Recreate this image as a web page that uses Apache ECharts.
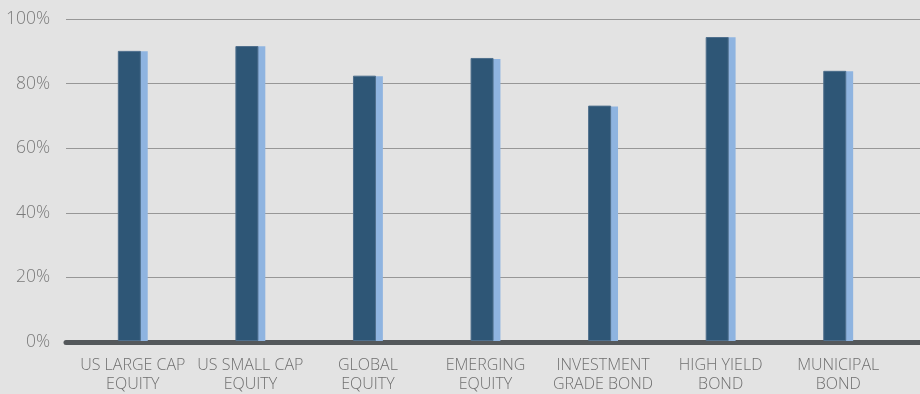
<!DOCTYPE html>
<html>
<head>
<meta charset="utf-8">
<script src="https://cdn.jsdelivr.net/npm/echarts@6/dist/echarts.min.js"></script>
<style>
  html, body { margin: 0; padding: 0; background: #e3e3e3; }
  #chart { width: 920px; height: 394px; }
</style>
</head>
<body>
<div id="chart"></div>
<script>
const categories = ['US LARGE CAP\nEQUITY', 'US SMALL CAP\nEQUITY', 'GLOBAL\nEQUITY', 'EMERGING\nEQUITY',
  'INVESTMENT\nGRADE BOND', 'HIGH YIELD\nBOND', 'MUNICIPAL\nBOND'];
const darkValues = [0.901, 0.916, 0.824, 0.879, 0.731, 0.944, 0.839]; //深色柱
const lightValues = [0.900, 0.915, 0.822, 0.876, 0.728, 0.943, 0.838]; //浅色柱

const chart = echarts.init(document.getElementById('chart'));
const labelFont = '"Open Sans", "DejaVu Sans", sans-serif';

chart.setOption({
  backgroundColor: '#e3e3e3',
  animation: false,
  grid: [
    { left: 66, right: 0, top: 19, bottom: 52 },
    { left: 74, right: 23, top: 19, bottom: 52 }
  ],
  xAxis: [
    {
      gridIndex: 0, type: 'category', data: categories,
      axisLine: { show: true, lineStyle: { color: '#54585b', width: 5 } },
      axisTick: { show: false }, axisLabel: { show: false }
    },
    {
      gridIndex: 1, type: 'category', data: categories,
      axisLine: { show: false }, axisTick: { show: false },
      axisLabel: {
        color: '#6f6f6f', fontSize: 16, fontWeight: 300, fontFamily: labelFont,
        lineHeight: 19, margin: 15, interval: 0
      }
    }
  ],
  yAxis: [
    {
      gridIndex: 0, type: 'value', min: 0, max: 1, interval: 0.2,
      axisLine: { show: false }, axisTick: { show: false },
      splitLine: { lineStyle: { color: '#979797', width: 1 } },
      axisLabel: {
        color: '#7a7a7a', fontSize: 17.5, fontWeight: 300, fontFamily: labelFont, margin: 16,
        formatter: v => Math.round(v * 100) + '%'
      }
    },
    {
      gridIndex: 1, type: 'value', min: 0, max: 1, show: false
    }
  ],
  series: [
    {
      type: 'bar', xAxisIndex: 1, yAxisIndex: 1, data: darkValues,
      barWidth: 23, barGap: '-70%', z: 3,
      itemStyle: { color: '#2e5676', borderColor: '#4f6f8c', borderWidth: 1 }
    },
    {
      type: 'bar', xAxisIndex: 1, yAxisIndex: 1, data: lightValues,
      barWidth: 23, z: 2,
      itemStyle: { color: '#8fb4e0' }
    }
  ]
});
</script>
</body>
</html>
